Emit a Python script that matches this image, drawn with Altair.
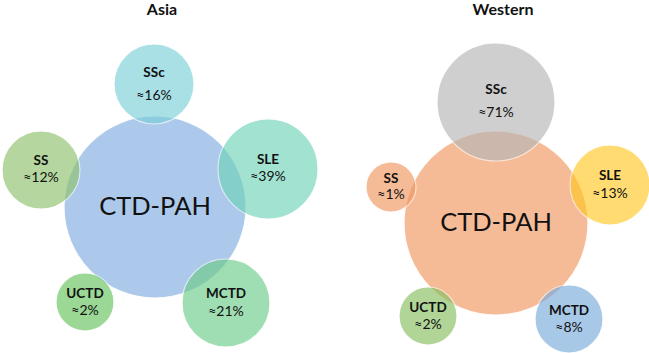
import altair as alt
import pandas as pd

# ---- data ----
panels = ["Asia"] * 6 + ["Western"] * 6
names = ["CTD-PAH", "SSc", "SS", "SLE", "UCTD", "MCTD"] * 2
pct_labels = ["", "≈16%", "≈12%", "≈39%", "≈2%", "≈21%",
              "", "≈71%", "≈1%", "≈13%", "≈2%", "≈8%"]
# bubble centres and radii (diagram units)
cx = [155, 154, 41, 268, 85, 226,
      496, 496, 391, 610, 428, 569]
cy = [207, 84, 170, 169, 302, 303,
      223, 102, 187, 185, 316, 319]
radius = [91, 40, 39, 50, 29, 44,
          92, 59, 25, 40, 29, 34]
colors = ["#81ACDF", "#7AD0D9", "#8FC36D", "#70D3BA", "#66C25E", "#6DCC89",
          "#F09761", "#B6B6B6", "#F09761", "#FFC826", "#86C061", "#7AABDC"]
# vertical gap between the two label lines (larger for SSc)
gap_up = [0, 11, 9, 9, 8, 9, 0, 12, 8, 9, 8, 8]
gap_down = [0, 12, 8, 8, 9, 9, 0, 11, 8, 9, 9, 9]

titles = ["Asia", "Western"]
title_x = [162, 503]
title_y = [10, 10]

W, H = 649, 353

df = pd.DataFrame({
    "panel": panels, "name": names, "pct": pct_labels,
    "cx": cx, "cy": cy, "r": radius, "color": colors,
})
# Vega circle symbol: radius = sqrt(size) / 2
df["area"] = [(2 * r) ** 2 for r in radius]
df["name_y"] = [c - g for c, g in zip(cy, gap_up)]
df["pct_y"] = [c + g for c, g in zip(cy, gap_down)]
df["order"] = list(range(len(df)))

tdf = pd.DataFrame({"title": titles, "x": title_x, "y": title_y})

xs = alt.Scale(domain=[0, W], range=[0, W])
ys = alt.Scale(domain=[0, H], range=[0, H])
FONT = "Lato"

base = alt.Chart(df)

bubbles = base.mark_circle(opacity=0.65, stroke="white", strokeWidth=1.2, strokeOpacity=0.9).encode(
    x=alt.X("cx:Q", scale=xs, axis=None),
    y=alt.Y("cy:Q", scale=ys, axis=None),
    size=alt.Size("area:Q", scale=None, legend=None),
    color=alt.Color("color:N", scale=None, legend=None),
    order=alt.Order("order:Q"),
)

big = base.transform_filter(alt.datum.name == "CTD-PAH").mark_text(
    font=FONT, fontSize=25.5, color="#111111", baseline="middle", align="center"
).encode(
    x=alt.X("cx:Q", scale=xs, axis=None),
    y=alt.Y("cy:Q", scale=ys, axis=None),
    text="name:N",
)

small = base.transform_filter(alt.datum.name != "CTD-PAH")

name_txt = small.mark_text(
    font=FONT, fontSize=13.5, fontWeight="bold", color="#111111", baseline="middle", align="center"
).encode(
    x=alt.X("cx:Q", scale=xs, axis=None),
    y=alt.Y("name_y:Q", scale=ys, axis=None),
    text="name:N",
)

pct_txt = small.mark_text(
    font=FONT, fontSize=14, color="#111111", baseline="middle", align="center"
).encode(
    x=alt.X("cx:Q", scale=xs, axis=None),
    y=alt.Y("pct_y:Q", scale=ys, axis=None),
    text="pct:N",
)

title_txt = alt.Chart(tdf).mark_text(
    font=FONT, fontSize=16, fontWeight="bold", color="#111111", baseline="middle", align="center"
).encode(
    x=alt.X("x:Q", scale=xs, axis=None),
    y=alt.Y("y:Q", scale=ys, axis=None),
    text="title:N",
)

chart = alt.layer(bubbles, big, name_txt, pct_txt, title_txt).properties(
    width=W, height=H, padding=0, autosize=alt.AutoSizeParams(type="none"),
    background="white",
).configure_view(stroke=None)

chart.save("out.html", embed_options={"renderer": "svg", "actions": False})
